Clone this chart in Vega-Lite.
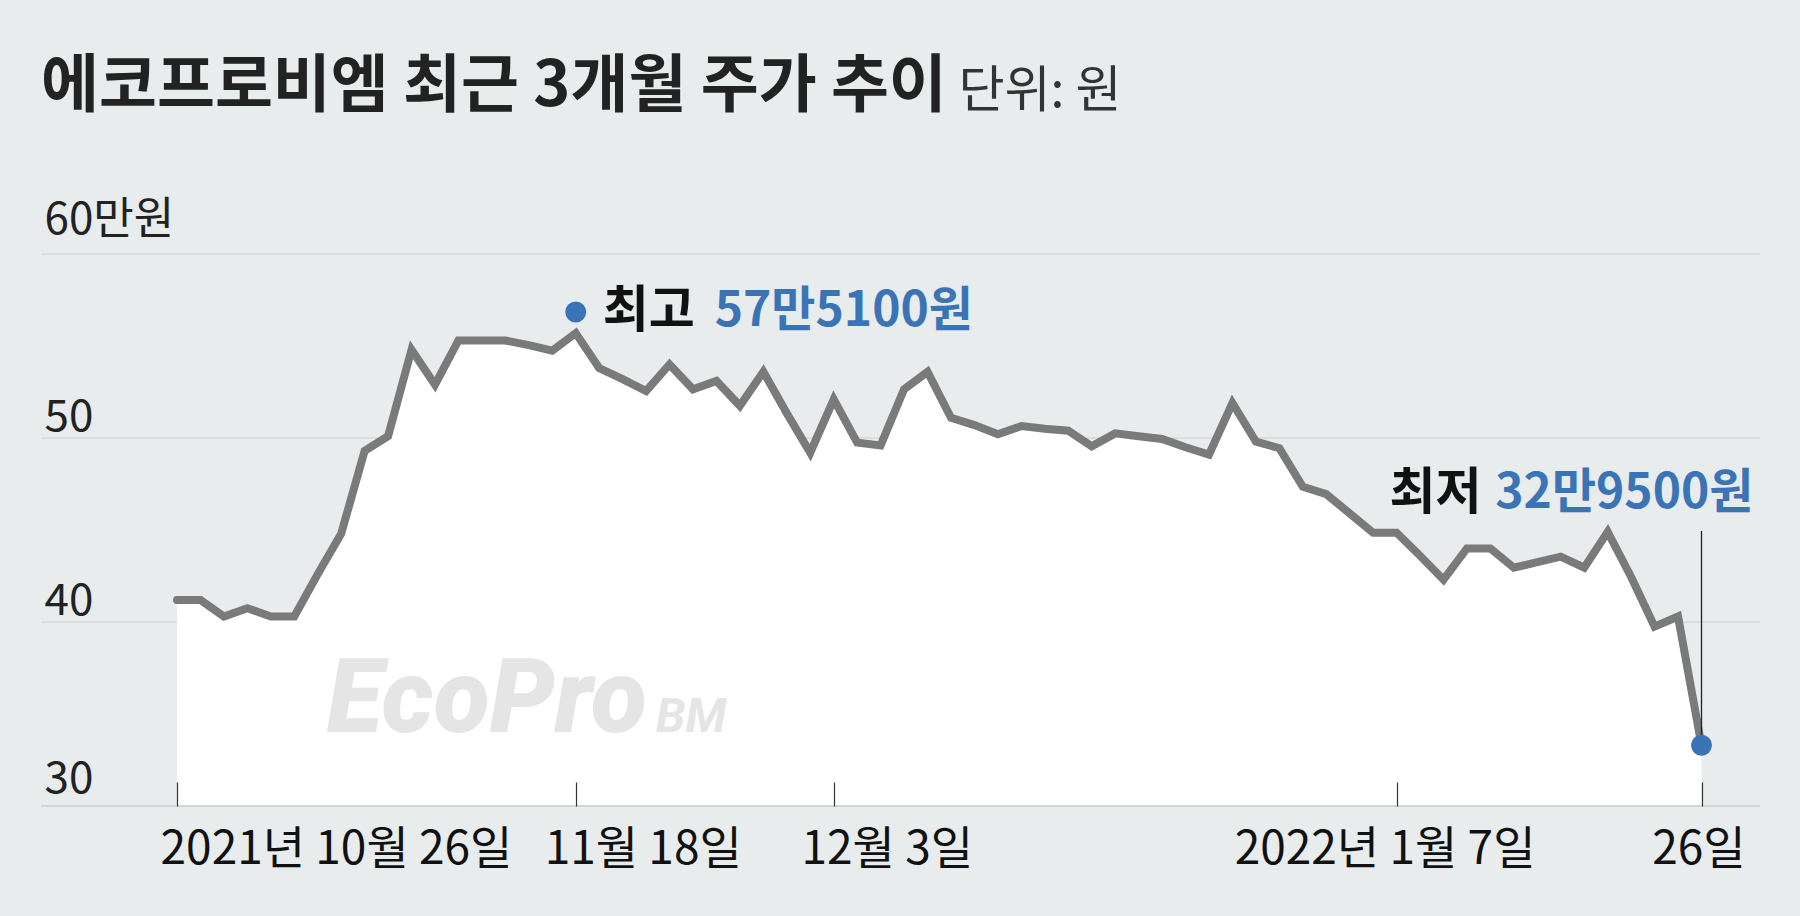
{
  "$schema": "https://vega.github.io/schema/vega-lite/v6.json",
  "width": 1719,
  "height": 552,
  "autosize": {"type": "none"},
  "padding": {"left": 41, "top": 254, "right": 40, "bottom": 110},
  "background": "#e8eced",
  "config": {"view": {"stroke": null}, "font": "Noto Sans CJK KR"},
  "title": {
    "text": "에코프로비엠 최근 3개월 주가 추이",
    "anchor": "start",
    "frame": "group",
    "font": "Noto Sans CJK KR",
    "fontSize": 63,
    "fontWeight": "bold",
    "color": "#222222",
    "baseline": "alphabetic",
    "offset": 0,
    "dx": 0,
    "dy": 103
  },
  "datasets": {
    "prices": [
      {"date": "2021-10-26", "price": 41.2},
      {"date": "2021-10-27", "price": 41.2},
      {"date": "2021-10-28", "price": 40.3},
      {"date": "2021-10-29", "price": 40.75},
      {"date": "2021-11-01", "price": 40.3},
      {"date": "2021-11-02", "price": 40.3},
      {"date": "2021-11-03", "price": 42.6},
      {"date": "2021-11-04", "price": 44.8},
      {"date": "2021-11-05", "price": 49.3},
      {"date": "2021-11-08", "price": 50.1},
      {"date": "2021-11-09", "price": 54.8},
      {"date": "2021-11-10", "price": 52.9},
      {"date": "2021-11-11", "price": 55.3},
      {"date": "2021-11-12", "price": 55.3},
      {"date": "2021-11-15", "price": 55.3},
      {"date": "2021-11-16", "price": 55.05},
      {"date": "2021-11-17", "price": 54.75},
      {"date": "2021-11-18", "price": 55.7},
      {"date": "2021-11-19", "price": 53.8},
      {"date": "2021-11-22", "price": 53.2},
      {"date": "2021-11-23", "price": 52.55},
      {"date": "2021-11-24", "price": 54.0},
      {"date": "2021-11-25", "price": 52.65},
      {"date": "2021-11-26", "price": 53.1},
      {"date": "2021-11-29", "price": 51.75},
      {"date": "2021-11-30", "price": 53.6},
      {"date": "2021-12-01", "price": 51.35},
      {"date": "2021-12-02", "price": 49.2},
      {"date": "2021-12-03", "price": 52.1},
      {"date": "2021-12-06", "price": 49.75},
      {"date": "2021-12-07", "price": 49.6},
      {"date": "2021-12-08", "price": 52.65},
      {"date": "2021-12-09", "price": 53.6},
      {"date": "2021-12-10", "price": 51.1},
      {"date": "2021-12-13", "price": 50.7},
      {"date": "2021-12-14", "price": 50.2},
      {"date": "2021-12-15", "price": 50.65},
      {"date": "2021-12-16", "price": 50.5},
      {"date": "2021-12-17", "price": 50.4},
      {"date": "2021-12-20", "price": 49.55},
      {"date": "2021-12-21", "price": 50.25},
      {"date": "2021-12-22", "price": 50.1},
      {"date": "2021-12-23", "price": 49.95},
      {"date": "2021-12-24", "price": 49.5},
      {"date": "2021-12-27", "price": 49.1},
      {"date": "2021-12-28", "price": 51.9},
      {"date": "2021-12-29", "price": 49.8},
      {"date": "2021-12-30", "price": 49.45},
      {"date": "2022-01-03", "price": 47.35},
      {"date": "2022-01-04", "price": 46.95},
      {"date": "2022-01-05", "price": 45.9},
      {"date": "2022-01-06", "price": 44.85},
      {"date": "2022-01-07", "price": 44.85},
      {"date": "2022-01-10", "price": 43.6},
      {"date": "2022-01-11", "price": 42.3},
      {"date": "2022-01-12", "price": 44.0},
      {"date": "2022-01-13", "price": 44.0},
      {"date": "2022-01-14", "price": 42.95},
      {"date": "2022-01-17", "price": 43.25},
      {"date": "2022-01-18", "price": 43.55},
      {"date": "2022-01-19", "price": 42.95},
      {"date": "2022-01-20", "price": 44.9},
      {"date": "2022-01-21", "price": 42.45},
      {"date": "2022-01-24", "price": 39.75},
      {"date": "2022-01-25", "price": 40.3},
      {"date": "2022-01-26", "price": 33.3}
    ],
    "extremes": [
      {"date": "2021-11-18", "price": 56.85, "kind": "max", "label": "최고", "amount": "57만5100원"},
      {"date": "2022-01-26", "price": 33.3, "kind": "min", "label": "최저", "amount": "32만9500원"}
    ],
    "logo": [
      {"date": "2021-11-03", "price": 34, "word": "EcoPro", "part": "main"},
      {"date": "2021-11-03", "price": 34, "word": "BM", "part": "sub"}
    ],
    "grid": [
      {"level": 40, "line": "grid"},
      {"level": 50, "line": "grid"},
      {"level": 60, "line": "grid"},
      {"level": 30, "line": "base"}
    ]
  },
  "layer": [
    {
      "data": {"name": "grid"},
      "transform": [{"filter": "datum.line == 'grid'"}],
      "mark": {"type": "rule", "color": "#d6dadc", "strokeWidth": 1.5},
      "encoding": {"y": {"field": "level", "type": "quantitative"}}
    },
    {
      "data": {"name": "prices"},
      "mark": {"type": "area", "color": "#ffffff", "interpolate": "linear"},
      "encoding": {
        "x": {
          "field": "date",
          "type": "ordinal",
          "scale": {"type": "point", "padding": 0, "range": [136, 1660.5]},
          "axis": {
            "values": ["2021-10-26", "2021-11-18", "2021-12-03", "2022-01-07", "2022-01-26"],
            "labelExpr": "datum.value == '2021-10-26' ? '2021년 10월 26일' : datum.value == '2021-11-18' ? '11월 18일' : datum.value == '2021-12-03' ? '12월 3일' : datum.value == '2022-01-07' ? '2022년 1월 7일' : '26일'",
            "grid": false,
            "domain": false,
            "ticks": true,
            "tickSize": -24,
            "tickColor": "#333333",
            "tickWidth": 1.2,
            "labelAngle": 0,
            "labelAlign": "center",
            "labelOffset": {"expr": "datum.value == '2021-10-26' ? 159 : datum.value == '2021-11-18' ? 67 : datum.value == '2021-12-03' ? 53 : datum.value == '2022-01-07' ? -12 : -3"},
            "labelPadding": 45,
            "labelBaseline": "top",
            "labelFontSize": 46,
            "labelFont": "Noto Sans CJK KR",
            "labelColor": "#111111",
            "labelLimit": 0,
            "labelFlush": false,
            "labelOverlap": false,
            "title": null,
            "zindex": 1
          }
        },
        "y": {
          "field": "price",
          "type": "quantitative",
          "scale": {"domain": [30, 60], "nice": false, "zero": false},
          "axis": {
            "values": [30, 40, 50, 60],
            "grid": false,
            "domain": false,
            "ticks": false,
            "labelAlign": "left",
            "labelPadding": -3,
            "labelBaseline": "alphabetic",
            "labelOffset": {"expr": "datum.value == 30 ? -14 : datum.value == 60 ? -21 : -8"},
            "labelFlush": false,
            "labelOverlap": false,
            "labelLimit": 0,
            "labelFontSize": 44,
            "labelFont": "Noto Sans CJK KR",
            "labelColor": "#222222",
            "labelExpr": "datum.value == 60 ? '60만원' : datum.label",
            "title": "단위: 원",
            "titleAngle": 0,
            "titleAlign": "left",
            "titleBaseline": "alphabetic",
            "titleX": 917,
            "titleY": -148,
            "titleFont": "Noto Sans CJK KR",
            "titleFontSize": 50,
            "titleFontWeight": "normal",
            "titleColor": "#333333",
            "titleLimit": 0,
            "zindex": 0
          }
        },
        "y2": {"datum": 30}
      }
    },
    {
      "data": {"name": "grid"},
      "transform": [{"filter": "datum.line == 'base'"}],
      "mark": {"type": "rule", "color": "#d2d6d8", "strokeWidth": 2},
      "encoding": {"y": {"field": "level", "type": "quantitative"}}
    },
    {
      "data": {"name": "logo"},
      "transform": [{"filter": "datum.part == 'main'"}],
      "mark": {"type": "text", "align": "left", "baseline": "alphabetic", "dx": 9, "font": "Roboto", "fontSize": 103, "fontWeight": 900, "fontStyle": "italic", "color": "#e5e5e5"},
      "encoding": {
        "x": {"field": "date", "type": "ordinal"},
        "y": {"field": "price", "type": "quantitative"},
        "text": {"field": "word"}
      }
    },
    {
      "data": {"name": "logo"},
      "transform": [{"filter": "datum.part == 'sub'"}],
      "mark": {"type": "text", "align": "left", "baseline": "alphabetic", "dx": 338, "font": "Roboto", "fontSize": 48, "fontWeight": 700, "fontStyle": "italic", "color": "#e5e5e5"},
      "encoding": {
        "x": {"field": "date", "type": "ordinal"},
        "y": {"field": "price", "type": "quantitative"},
        "text": {"field": "word"}
      }
    },
    {
      "data": {"name": "prices"},
      "mark": {"type": "line", "color": "#7a7a7a", "strokeWidth": 8, "strokeJoin": "miter", "strokeCap": "round"},
      "encoding": {
        "x": {"field": "date", "type": "ordinal"},
        "y": {"field": "price", "type": "quantitative"}
      }
    },
    {
      "data": {"name": "extremes"},
      "transform": [{"filter": "datum.kind == 'min'"}],
      "mark": {"type": "rule", "color": "#222222", "strokeWidth": 1.3},
      "encoding": {
        "x": {"field": "date", "type": "ordinal"},
        "y": {"field": "price", "type": "quantitative"},
        "y2": {"datum": 44.95}
      }
    },
    {
      "data": {"name": "extremes"},
      "mark": {"type": "circle", "size": 440, "color": "#3b74b6", "opacity": 1},
      "encoding": {
        "x": {"field": "date", "type": "ordinal"},
        "y": {"field": "price", "type": "quantitative"}
      }
    },
    {
      "data": {"name": "extremes"},
      "transform": [{"filter": "datum.kind == 'max'"}],
      "mark": {"type": "text", "align": "left", "baseline": "middle", "dx": 27, "dy": 0, "fontSize": 50, "fontWeight": "bold", "color": "#111111"},
      "encoding": {
        "x": {"field": "date", "type": "ordinal"},
        "y": {"field": "price", "type": "quantitative"},
        "text": {"field": "label"}
      }
    },
    {
      "data": {"name": "extremes"},
      "transform": [{"filter": "datum.kind == 'max'"}],
      "mark": {"type": "text", "align": "left", "baseline": "middle", "dx": 139, "dy": 0, "fontSize": 48, "fontWeight": "bold", "color": "#3b74b6"},
      "encoding": {
        "x": {"field": "date", "type": "ordinal"},
        "y": {"field": "price", "type": "quantitative"},
        "text": {"field": "amount"}
      }
    },
    {
      "data": {"name": "extremes"},
      "transform": [{"filter": "datum.kind == 'min'"}],
      "mark": {"type": "text", "align": "right", "baseline": "middle", "dx": -220, "dy": -251, "fontSize": 50, "fontWeight": "bold", "color": "#111111"},
      "encoding": {
        "x": {"field": "date", "type": "ordinal"},
        "y": {"field": "price", "type": "quantitative"},
        "text": {"field": "label"}
      }
    },
    {
      "data": {"name": "extremes"},
      "transform": [{"filter": "datum.kind == 'min'"}],
      "mark": {"type": "text", "align": "right", "baseline": "middle", "dx": 52, "dy": -251, "fontSize": 48, "fontWeight": "bold", "color": "#3b74b6"},
      "encoding": {
        "x": {"field": "date", "type": "ordinal"},
        "y": {"field": "price", "type": "quantitative"},
        "text": {"field": "amount"}
      }
    }
  ]
}
